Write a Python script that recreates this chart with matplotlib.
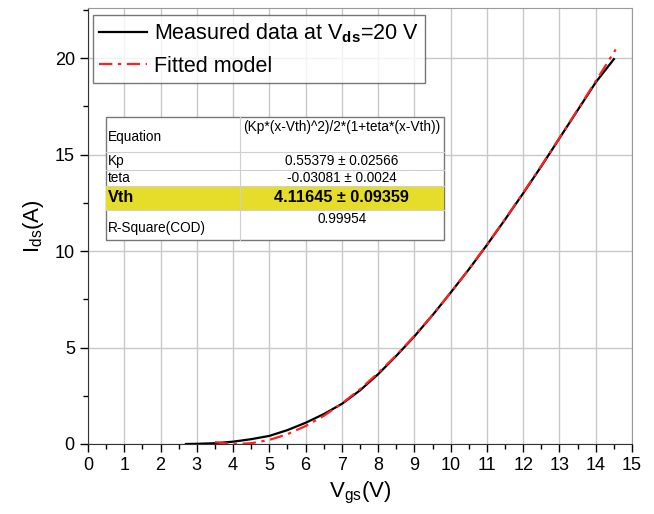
import matplotlib

matplotlib.use("Agg")
import matplotlib.pyplot as plt
from matplotlib.patches import Rectangle
from matplotlib.ticker import MultipleLocator

plt.rcParams["font.family"] = ["Liberation Sans", "DejaVu Sans"]
plt.rcParams["mathtext.fontset"] = "custom"
plt.rcParams["mathtext.rm"] = "Liberation Sans"
plt.rcParams["mathtext.bf"] = "Liberation Sans:bold"

# measured transfer curve
vgs_meas = [2.7, 3.0, 3.5, 4.0, 4.5, 5.0, 5.5, 6.0, 6.5, 7.0, 7.5, 8.0, 8.5, 9.0,
            9.5, 10.0, 10.5, 11.0, 11.5, 12.0, 12.5, 13.0, 13.5, 14.0, 14.5]
ids_meas = [0.0, 0.01, 0.04, 0.12, 0.25, 0.42, 0.72, 1.1, 1.55, 2.08, 2.78, 3.62,
            4.57, 5.58, 6.68, 7.85, 9.05, 10.32, 11.64, 13.0, 14.4, 15.85, 17.3, 18.75, 19.95]

# fitted model curve
vgs_fit = [3.5, 3.8, 4.1, 4.5, 5.0, 5.5, 6.0, 6.5, 7.0, 7.5, 8.0, 8.5, 9.0, 9.5,
           10.0, 10.5, 11.0, 11.5, 12.0, 12.5, 13.0, 13.5, 14.0, 14.55]
ids_fit = [0.1, 0.03, 0.0, 0.04, 0.21, 0.51, 0.93, 1.46, 2.1, 2.84, 3.68, 4.6, 5.61,
           6.69, 7.85, 9.06, 10.34, 11.66, 13.03, 14.43, 15.87, 17.33, 18.81, 20.45]

table_rows = [
    ("Equation", "(Kp*(x-Vth)^2)/2*(1+teta*(x-Vth))"),
    ("Kp", "0.55379 \u00b1 0.02566"),
    ("teta", "-0.03081 \u00b1 0.0024"),
    ("Vth", "4.11645 \u00b1 0.09359"),
    ("R-Square(COD)", "0.99954"),
]

fig = plt.figure(figsize=(6.54, 5.14), dpi=100)
ax = fig.add_axes([0.1346, 0.1362, 0.8318, 0.8482])

ax.grid(True, color="#c8c8c8", lw=1.0)
ax.set_axisbelow(True)
ax.plot(vgs_meas, ids_meas, color="black", lw=1.6, label="Measured data at V$_{\\mathbf{ds}}$=20 V", zorder=3)
ax.plot(vgs_fit, ids_fit, color="#ff2020", lw=1.6, ls=(0, (6, 2.5, 1.5, 2.5)), label="Fitted model", zorder=4)

ax.set_xlim(0, 15)
ax.set_ylim(0, 22.6)
ax.xaxis.set_major_locator(MultipleLocator(1))
ax.xaxis.set_minor_locator(MultipleLocator(0.5))
ax.yaxis.set_major_locator(MultipleLocator(5))
ax.yaxis.set_minor_locator(MultipleLocator(2.5))
ax.tick_params(which="both", direction="out", labelsize=13, top=False, right=False)
ax.tick_params(which="major", length=6, width=1)
ax.tick_params(which="minor", length=3.5, width=1)
ax.grid(False, which="minor")
for s in ("top", "right"):
    ax.spines[s].set_color("#9a9a9a")
for s in ("left", "bottom"):
    ax.spines[s].set_color("#333333")

ax.set_xlabel("V$_{\\mathrm{gs}}$(V)", fontsize=16, labelpad=4)
ax.set_ylabel("I$_{\\mathrm{ds}}$(A)", fontsize=16, labelpad=6)

leg = ax.legend(loc="upper left", bbox_to_anchor=(0.009, 0.984), fontsize=15.5,
                frameon=True, fancybox=False, edgecolor="#555555", handlelength=2.2,
                borderpad=0.3, labelspacing=0.5, handletextpad=0.35, borderaxespad=0)
leg.get_frame().set_linewidth(1.0)

# fit results table (axes fraction coords)
x0, xm, x1 = 0.033, 0.279, 0.654
row_edges = [0.750, 0.670, 0.628, 0.592, 0.537, 0.468]
tr = ax.transAxes
ax.add_patch(Rectangle((x0, row_edges[-1]), x1 - x0, row_edges[0] - row_edges[-1],
                       transform=tr, facecolor="white", edgecolor="#777777", lw=1.0, zorder=6))
ax.add_patch(Rectangle((x0, row_edges[4]), x1 - x0, row_edges[3] - row_edges[4],
                       transform=tr, facecolor="#e6dc2a", edgecolor="none", zorder=6.5))
for yy in row_edges[1:-1]:
    ax.plot([x0, x1], [yy, yy], transform=tr, color="#cfcfcf", lw=0.8, zorder=7)
ax.plot([xm, xm], [row_edges[-1], row_edges[0]], transform=tr, color="#cfcfcf", lw=0.8, zorder=7)

for i, (name, val) in enumerate(table_rows):
    top, bot = row_edges[i], row_edges[i + 1]
    bold = name == "Vth"
    fs = 11.7 if bold else 9.8
    fw = "bold" if bold else "normal"
    if name in ("Equation", "R-Square(COD)"):
        ax.text(x0 + 0.004, (top + bot) / 2 - 0.006, name, transform=tr, fontsize=fs, fontweight=fw,
                ha="left", va="center", zorder=8)
        ax.text((xm + x1) / 2, top - 0.006, val, transform=tr, fontsize=9.8,
                ha="center", va="top", zorder=8)
    else:
        ax.text(x0 + 0.004, (top + bot) / 2, name, transform=tr, fontsize=fs, fontweight=fw,
                ha="left", va="center", zorder=8)
        ax.text((xm + x1) / 2, (top + bot) / 2, val, transform=tr, fontsize=fs, fontweight=fw,
                ha="center", va="center", zorder=8)

fig.savefig("out.png", dpi=100)
